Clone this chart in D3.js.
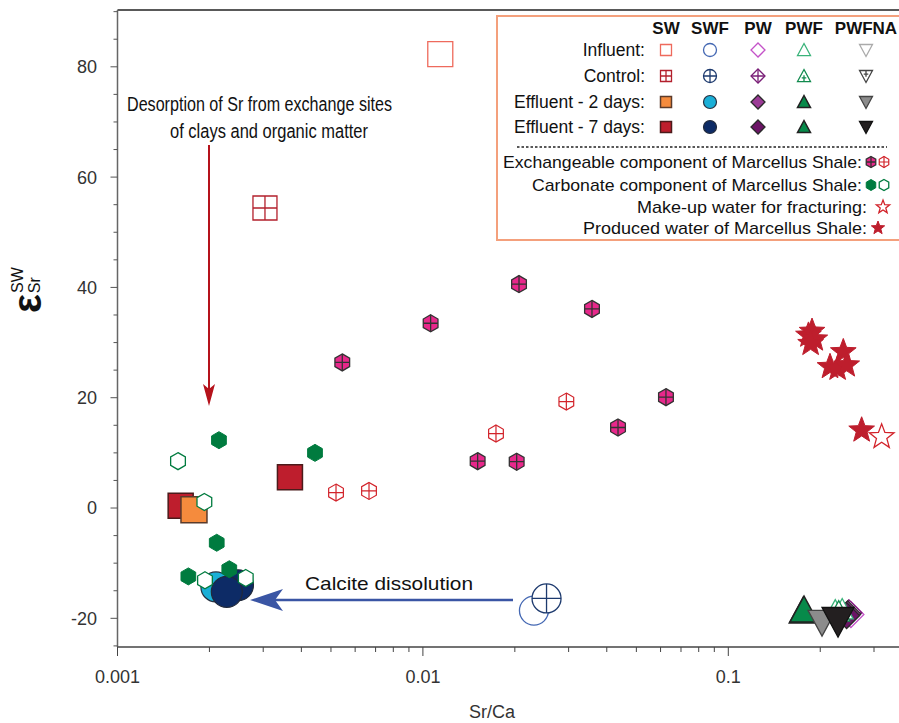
<!DOCTYPE html>
<html><head><meta charset="utf-8">
<script src="https://cdn.jsdelivr.net/npm/d3@7"></script>
<style>body{margin:0;background:#fff}svg{display:block;font-family:"Liberation Sans",Arial,sans-serif}</style>
</head><body><svg id="c" width="899" height="723"></svg>
<script>
// ---- data (Sr/Ca, epsilon) ----
const swInfluent = [[0.0114, 82.3]];
const swControl = [[0.00304, 54.4]];
const swEff2 = [[0.00178, -0.3]];
const swEff7 = [[0.00161, 0.4], [0.00367, 5.6]];
const swfInfluent = [[0.0231, -18.6]];
const swfControl = [[0.0254, -16.4]];
const swfEff2 = [[0.0021, -14.3]];
const swfEff7 = [[0.00248, -14.0], [0.00228, -15.2]];
const pwInfluent = [[0.252, -19.3]];
const pwControl = [[0.248, -19.0]];
const pwEff2 = [[0.246, -19.2]];
const pwEff7 = [[0.244, -19.5]];
const pwfInfluent = [[0.224, -18.6], [0.236, -18.4]];
const pwfControl = [[0.23, -18.8]];
const pwfEff2 = [[0.177, -18.5]];
const pwfEff7 = [[0.176, -18.7]];
const pwfnaInfluent = [[0.232, -20.2]];
const pwfnaControl = [[0.226, -20.3]];
const pwfnaEff2 = [[0.2027, -20.7]];
const pwfnaEff7 = [[0.2287, -20.5]];
const exchFilled = [[0.02064, 40.6], [0.03578, 36.1], [0.0106, 33.5], [0.005445, 26.4], [0.0625, 20.1], [0.04354, 14.6], [0.01511, 8.5], [0.02028, 8.4]];
const exchOpen = [[0.02949, 19.3], [0.01735, 13.5], [0.005194, 2.8], [0.006661, 3.1]];
const carbFilled = [[0.004433, 10.0], [0.002149, 12.3], [0.002113, -6.3], [0.001706, -12.4], [0.002323, -11.1]];
const carbOpen = [[0.001578, 8.5], [0.001925, 1.1], [0.001934, -13.1], [0.00263, -12.7]];
const producedWater = [[0.183, 31.3], [0.188, 32.0], [0.192, 30.6], [0.186, 29.8], [0.238, 28.3], [0.2153, 25.6], [0.228, 25.3], [0.2442, 25.9], [0.2733, 14.1]];
const makeupWater = [[0.3178, 12.9]];
const yTicks = [-20, 0, 20, 40, 60, 80];
const xTicks = [0.001, 0.01, 0.1];
const xTickLabels = ["0.001", "0.01", "0.1"];
const legendCols = ["SW", "SWF", "PW", "PWF", "PWFNA"];
const legendRows = ["Influent:", "Control:", "Effluent - 2 days:", "Effluent - 7 days:"];
const legendOther = ["Exchangeable component of Marcellus Shale:", "Carbonate component of Marcellus Shale:", "Make-up water for fracturing:", "Produced water of Marcellus Shale:"];

// ---- scales ----
const svg = d3.select("#c");
const x = d3.scaleLog().domain([0.001, 1]).range([117.5, 117.5 + 3 * 305.4]);
const y = d3.scaleLinear().domain([-25.2, 90.3]).range([647, 10]);

// ---- shape paths ----
function shapePath(type, s) {
  const h = s / 2;
  if (type === "square") return `M${-h},${-h}H${h}V${h}H${-h}Z`;
  if (type === "diamond") return `M0,${-h}L${h},0L0,${h}L${-h},0Z`;
  if (type === "triUp") return `M0,${-h}L${h},${h * 0.85}L${-h},${h * 0.85}Z`;
  if (type === "triDown") return `M0,${h}L${h},${-h * 0.85}L${-h},${-h * 0.85}Z`;
  if (type === "hex") {
    let p = [];
    for (let k = 0; k < 6; k++) { const a = (-90 + 60 * k) * Math.PI / 180; p.push([h * Math.cos(a), h * Math.sin(a)]); }
    return "M" + p.map(q => q.join(",")).join("L") + "Z";
  }
  if (type === "star") {
    let p = [];
    for (let k = 0; k < 10; k++) { const r = k % 2 ? h * 0.42 : h; const a = (-90 + 36 * k) * Math.PI / 180; p.push([r * Math.cos(a), r * Math.sin(a)]); }
    return "M" + p.map(q => q.join(",")).join("L") + "Z";
  }
  if (type === "circle") return `M${-h},0A${h},${h} 0 1,1 ${h},0A${h},${h} 0 1,1 ${-h},0Z`;
}
function crossPath(type, s) {
  const h = s / 2;
  if (type === "hex") { const w = h * Math.cos(Math.PI / 6); return `M${-w},0H${w}M0,${-h}V${h}`; }
  if (type === "triUp") return `M${-h * 0.35},${h * 0.3}H${h * 0.35}M0,${-h * 0.1}V${h * 0.85}`;
  if (type === "triDown") return `M${-h * 0.35},${-h * 0.3}H${h * 0.35}M0,${h * 0.1}V${-h * 0.85}`;
  return `M${-h},0H${h}M0,${-h}V${h}`;
}
function marker(g, cx, cy, st) {
  const m = g.append("g").attr("transform", `translate(${cx},${cy})`);
  m.append("path").attr("d", shapePath(st.type, st.size))
    .attr("fill", st.fill || "#fff").attr("stroke", st.stroke).attr("stroke-width", st.sw || 1.2);
  if (st.cross) m.append("path").attr("d", crossPath(st.type, st.size)).attr("fill", "none")
    .attr("stroke", st.crossColor || st.stroke).attr("stroke-width", st.sw || 1.2);
}

// ---- styles ----
const S = {
  swI: {type: "square", fill: "#fff", stroke: "#ee6a5c", sw: 1.3},
  swC: {type: "square", fill: "#fff", stroke: "#b3202d", cross: true, sw: 1.3},
  swE2: {type: "square", fill: "#f58b3d", stroke: "#5b3b2b", sw: 1.5},
  swE7: {type: "square", fill: "#be1e2d", stroke: "#4b1b1b", sw: 1.5},
  swfI: {type: "circle", fill: "#fff", stroke: "#4468b3", sw: 1.3},
  swfC: {type: "circle", fill: "#fff", stroke: "#1d3a6e", cross: true, sw: 1.3},
  swfE2: {type: "circle", fill: "#1aafd7", stroke: "#263040", sw: 1.2},
  swfE7: {type: "circle", fill: "#0d2b66", stroke: "#222a3a", sw: 1.2},
  pwI: {type: "diamond", fill: "#fff", stroke: "#c452c8", sw: 1.3},
  pwC: {type: "diamond", fill: "#fff", stroke: "#7a1f77", cross: true, sw: 1.3},
  pwE2: {type: "diamond", fill: "#9b3b96", stroke: "#2a2a2a", sw: 1.3},
  pwE7: {type: "diamond", fill: "#6b1466", stroke: "#2a2a2a", sw: 1.3},
  pwfI: {type: "triUp", fill: "#fff", stroke: "#3ab37a", sw: 1.3},
  pwfC: {type: "triUp", fill: "#fff", stroke: "#118a4e", cross: true, sw: 1.3},
  pwfE2: {type: "triUp", fill: "#078a4a", stroke: "#222", sw: 1.5},
  pwfE7: {type: "triUp", fill: "#078a4a", stroke: "#222", sw: 1.5},
  pwfnaI: {type: "triDown", fill: "#fff", stroke: "#aaa", sw: 1.3},
  pwfnaC: {type: "triDown", fill: "#fff", stroke: "#444", cross: true, sw: 1.3},
  pwfnaE2: {type: "triDown", fill: "#8c8c8c", stroke: "#444", sw: 1.3},
  pwfnaE7: {type: "triDown", fill: "#231f20", stroke: "#111", sw: 1.3},
  exF: {type: "hex", fill: "#e8288b", stroke: "#333", cross: true, sw: 1.3},
  exO: {type: "hex", fill: "#fff", stroke: "#d2232a", cross: true, sw: 1.2},
  caF: {type: "hex", fill: "#007b3f", stroke: "#007b3f", sw: 1},
  caO: {type: "hex", fill: "#fff", stroke: "#007b3f", sw: 1.3},
  pr: {type: "star", fill: "#be1e2d", stroke: "#be1e2d", sw: 1},
  mu: {type: "star", fill: "#fff", stroke: "#d2232a", sw: 1.3}
};
const sz = (st, s) => Object.assign({}, st, {size: s});

// ---- axes ----
const ax = svg.append("g");
ax.append("line").attr("x1", x(0.001)).attr("x2", 899).attr("y1", 10).attr("y2", 10).attr("stroke", "#222").attr("stroke-width", 1.5);
ax.append("line").attr("x1", x(0.001)).attr("x2", x(0.001)).attr("y1", 10).attr("y2", 647).attr("stroke", "#666").attr("stroke-width", 1.5);
ax.append("line").attr("x1", x(0.001)).attr("x2", 899).attr("y1", 647).attr("y2", 647).attr("stroke", "#444").attr("stroke-width", 1.5);
for (let v = -25; v <= 90; v += 5) {
  const major = yTicks.includes(v);
  ax.append("line").attr("x1", x(0.001)).attr("x2", x(0.001) - (major ? 7 : 4)).attr("y1", y(v)).attr("y2", y(v)).attr("stroke", "#555").attr("stroke-width", 1);
}
yTicks.forEach(v => ax.append("text").attr("x", 97).attr("y", y(v)).attr("dy", "0.36em").attr("text-anchor", "end")
  .attr("font-size", 18).attr("fill", "#333").text(v));
[0.001, 0.01, 0.1, 1].forEach(d => {
  for (let k = 1; k < 10; k++) {
    const v = d * k; if (x(v) > 899) continue;
    ax.append("line").attr("x1", x(v)).attr("x2", x(v)).attr("y1", 647).attr("y2", 647 + (k === 1 ? 9 : 5)).attr("stroke", "#444").attr("stroke-width", 1);
  }
});
xTicks.forEach((v, i) => ax.append("text").attr("x", x(v)).attr("y", 683).attr("text-anchor", "middle")
  .attr("font-size", 18).attr("fill", "#333").text(xTickLabels[i]));
ax.append("text").attr("x", 492).attr("y", 718).attr("text-anchor", "middle").attr("font-size", 18).attr("fill", "#333").text("Sr/Ca");
const yl = ax.append("text").attr("transform", "translate(41,313) rotate(-90)").attr("fill", "#111");
yl.append("tspan").attr("font-size", 40).attr("font-weight", "bold").text("ε");
yl.append("tspan").attr("font-size", 16).attr("dx", 1).attr("dy", -18).text("SW");
yl.append("tspan").attr("font-size", 16).attr("dx", -26).attr("dy", 17).text("Sr");

// ---- annotations ----
const an = svg.append("g");
an.append("text").attr("x", 127).attr("y", 111).attr("font-size", 20).attr("fill", "#111")
  .attr("textLength", 265).attr("lengthAdjust", "spacingAndGlyphs").text("Desorption of Sr from exchange sites");
an.append("text").attr("x", 170).attr("y", 138).attr("font-size", 20).attr("fill", "#111")
  .attr("textLength", 198).attr("lengthAdjust", "spacingAndGlyphs").text("of clays and organic matter");
an.append("line").attr("x1", 209).attr("x2", 209).attr("y1", 145).attr("y2", 392).attr("stroke", "#b5121b").attr("stroke-width", 2);
an.append("path").attr("d", "M209,406L203,384L209,389L215,384Z").attr("fill", "#b5121b");
an.append("text").attr("x", 305).attr("y", 590).attr("font-size", 19).attr("fill", "#111")
  .attr("textLength", 168).attr("lengthAdjust", "spacingAndGlyphs").text("Calcite dissolution");
an.append("line").attr("x1", 513).attr("x2", 270).attr("y1", 600).attr("y2", 600).attr("stroke", "#3a55a4").attr("stroke-width", 2.5);
an.append("path").attr("d", "M250,600L283,589L275,600L283,611Z").attr("fill", "#3a55a4");

// ---- points ----
const pg = svg.append("g");
function plot(data, st) { data.forEach(d => marker(pg, x(d[0]), y(d[1]), st)); }
plot(swInfluent, sz(S.swI, 25));
plot(swControl, sz(S.swC, 24));
plot(swEff7, sz(S.swE7, 25));
plot(swEff2, sz(S.swE2, 26));
plot(swfInfluent, sz(S.swfI, 29));
plot(swfControl, sz(S.swfC, 29));
plot(swfEff2, sz(S.swfE2, 30));
plot(swfEff7, sz(S.swfE7, 31));
plot(pwInfluent, sz(S.pwI, 26));
plot(pwControl, sz(S.pwC, 26));
plot(pwEff2, sz(S.pwE2, 26));
plot(pwEff7, sz(S.pwE7, 26));
plot(pwfInfluent, sz(S.pwfI, 22));
plot(pwfControl, sz(S.pwfC, 22));
plot(pwfEff7, sz(S.pwfE7, 28));
plot(pwfEff2, sz(S.pwfE2, 28));
plot(pwfnaInfluent, sz(S.pwfnaI, 26));
plot(pwfnaControl, sz(S.pwfnaC, 26));
plot(pwfnaEff2, sz(S.pwfnaE2, 28));
plot(pwfnaEff7, sz(S.pwfnaE7, 32));
plot(exchFilled, sz(S.exF, 17));
plot(exchOpen, sz(S.exO, 17));
plot(carbFilled, sz(S.caF, 17));
plot(carbOpen, sz(S.caO, 17));
plot(producedWater, sz(S.pr, 27));
plot(makeupWater, sz(S.mu, 26));

// ---- legend ----
const lg = svg.append("g");
lg.append("rect").attr("x", 497).attr("y", 16).attr("width", 420).attr("height", 224).attr("fill", "#fff").attr("stroke", "#f4a07c").attr("stroke-width", 2);
const colX = [666, 710, 758, 804, 866];
const rowY = [50, 76, 102, 127];
legendCols.forEach((c, i) => lg.append("text").attr("x", colX[i]).attr("y", 34).attr("text-anchor", "middle")
  .attr("font-size", 17).attr("font-weight", "bold").attr("fill", "#111").text(c));
legendRows.forEach((r, i) => lg.append("text").attr("x", 645).attr("y", rowY[i]).attr("dy", "0.35em").attr("text-anchor", "end")
  .attr("font-size", 17.5).attr("fill", "#111").text(r));
const legSty = [
  [sz(S.swI, 11), sz(S.swfI, 13), sz(S.pwI, 14), sz(S.pwfI, 13), sz(S.pwfnaI, 13)],
  [sz(S.swC, 11), sz(S.swfC, 13), sz(S.pwC, 14), sz(S.pwfC, 13), sz(S.pwfnaC, 13)],
  [sz(S.swE2, 11), sz(S.swfE2, 13), sz(S.pwE2, 14), sz(S.pwfE2, 13), sz(S.pwfnaE2, 13)],
  [sz(S.swE7, 11), sz(S.swfE7, 13), sz(S.pwE7, 14), sz(S.pwfE7, 13), sz(S.pwfnaE7, 13)]
];
legSty.forEach((row, i) => row.forEach((st, j) => marker(lg, colX[j], rowY[i], st)));
lg.append("line").attr("x1", 517).attr("x2", 887).attr("y1", 147).attr("y2", 147).attr("stroke", "#222").attr("stroke-width", 1.3).attr("stroke-dasharray", "2.5,2");
const otherY = [162, 185, 207, 228];
const otherX = [862, 862, 867, 867];
const otherLen = [359, 330, 230, 284];
legendOther.forEach((t, i) => lg.append("text").attr("x", otherX[i] - otherLen[i]).attr("y", otherY[i]).attr("dy", "0.35em")
  .attr("font-size", 17).attr("fill", "#111").attr("textLength", otherLen[i]).attr("lengthAdjust", "spacingAndGlyphs").text(t));
marker(lg, 871, otherY[0], sz(S.exF, 11));
marker(lg, 884, otherY[0], sz(S.exO, 11));
marker(lg, 871, otherY[1], sz(S.caF, 11));
marker(lg, 884, otherY[1], sz(S.caO, 11));
marker(lg, 883, otherY[2], sz(S.mu, 14));
marker(lg, 878, otherY[3], sz(S.pr, 14));
</script></body></html>
